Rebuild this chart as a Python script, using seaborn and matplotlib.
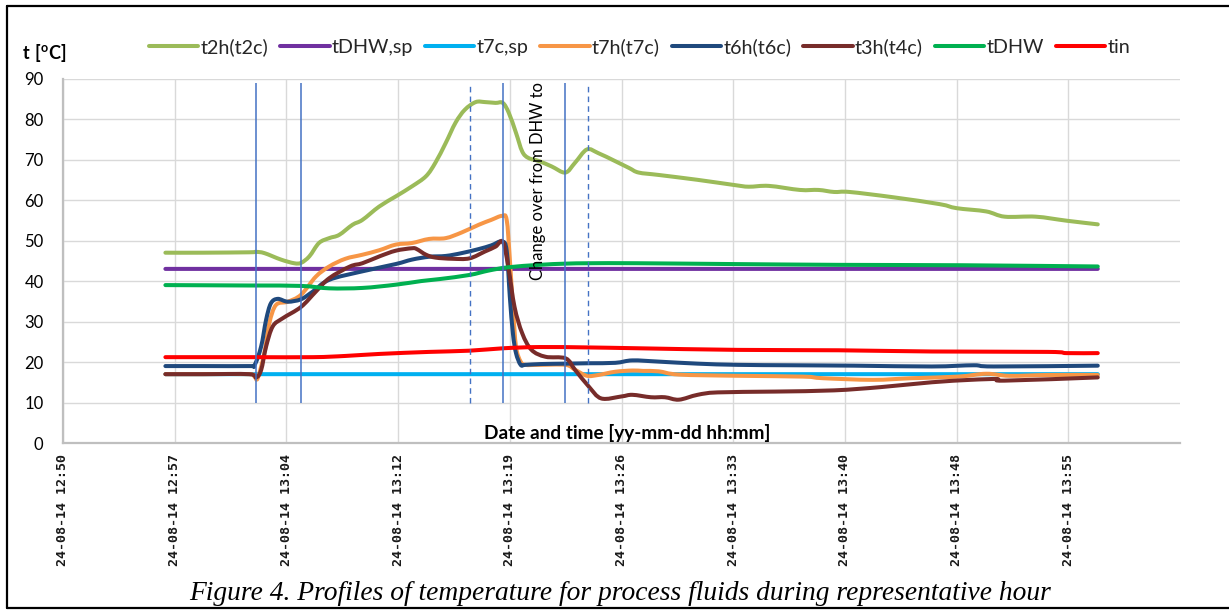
import matplotlib
matplotlib.use("Agg")
import matplotlib.pyplot as plt
from matplotlib.lines import Line2D
from matplotlib.path import Path
from matplotlib.patches import PathPatch
import numpy as np
import seaborn as sns
import pandas as pd

# Time axis: minutes after 24-08-14 12:50, major step of 0.005 day (7.2 min)
TICK_MIN = [0, 7.2, 14.4, 21.6, 28.8, 36.0, 43.2, 50.4, 57.6, 64.8]
TICK_LABELS = ["24-08-14 12:50", "24-08-14 12:57", "24-08-14 13:04", "24-08-14 13:12",
               "24-08-14 13:19", "24-08-14 13:26", "24-08-14 13:33", "24-08-14 13:40",
               "24-08-14 13:48", "24-08-14 13:55"]
X_MAX = 72.0

SERIES = ["t2h(t2c)", "tDHW,sp", "t7c,sp", "t7h(t7c)", "t6h(t6c)", "t3h(t4c)", "tDHW", "tin"]
COLORS = ["#9BBB59", "#7030A0", "#00B0F0", "#F79646", "#1F497D", "#772C2A", "#00B050", "#FF0000"]

T2H_MIN = [6.6, 9.0, 12.0, 12.45, 12.98, 14.05, 14.9, 15.35, 15.88, 16.5, 17.16, 17.8, 18.66, 19.3,
           20.38, 21.45, 22.5, 23.4, 24.0, 24.67, 25.3, 25.9, 26.6, 27.2, 27.88, 28.35, 28.74, 29.2,
           29.6, 30.0, 30.7, 31.5, 32.38, 33.0, 33.77, 34.5, 35.6, 36.5, 37.1, 38.4, 40.9, 43.3,
           44.2, 45.5, 47.5, 48.7, 49.7, 50.7, 53.5, 56.5, 57.6, 59.5, 60.7, 62.7, 64.7, 66.7]
T2H = [47.0, 47.0, 47.1, 47.2, 46.9, 45.3, 44.4, 44.5, 46.1, 49.4, 50.6, 51.4, 53.9, 55.1,
       58.4, 60.9, 63.4, 65.9, 69.2, 74.1, 79.1, 82.3, 84.2, 84.2, 84.0, 84.0, 81.5, 76.6,
       72.0, 70.4, 69.6, 68.3, 66.8, 69.2, 72.5, 71.6, 69.6, 67.9, 66.8, 66.2, 65.0, 63.7,
       63.3, 63.5, 62.5, 62.5, 62.0, 62.0, 60.7, 59.0, 58.0, 57.2, 55.9, 55.9, 54.9, 54.0]

TDHW_SP_MIN = [6.6, 66.7]
TDHW_SP = [43.0, 43.0]

T7C_SP_MIN = [6.6, 66.7]
T7C_SP = [17.0, 17.0]

T7H_MIN = [6.6, 9.0, 12.0, 12.34, 12.55, 12.98, 13.3, 13.73, 14.49, 15.34, 16.3, 17.16, 18.2, 19.3,
           20.38, 21.45, 22.5, 23.6, 24.67, 25.7, 26.8, 27.6, 28.3, 28.6, 28.8, 29.0, 29.2, 29.5,
           29.8, 30.7, 32.4, 33.0, 33.77, 34.5, 35.6, 36.7, 37.4, 38.4, 39.7, 43.5, 47.7, 49.0,
           52.2, 54.7, 57.7, 59.5, 61.0, 63.5, 66.7]
T7H = [17.0, 17.0, 17.0, 16.4, 16.0, 22.2, 29.6, 34.1, 34.9, 36.6, 41.1, 43.6, 45.5, 46.5,
       47.6, 49.0, 49.4, 50.4, 50.6, 52.0, 53.9, 55.1, 56.1, 55.1, 45.5, 33.7, 23.8, 20.1,
       19.3, 19.3, 19.3, 18.1, 16.6, 16.8, 17.6, 17.9, 17.8, 17.7, 16.9, 16.6, 16.4, 16.0,
       15.6, 16.0, 16.4, 17.1, 16.6, 16.8, 16.8]

T6H_MIN = [6.6, 9.0, 12.0, 12.34, 12.77, 13.09, 13.4, 13.84, 14.49, 15.34, 16.1, 17.16, 19.3, 21.45,
           22.5, 23.6, 24.67, 25.7, 26.8, 27.6, 28.3, 28.6, 28.8, 29.0, 29.2, 29.5, 29.8, 30.8,
           32.4, 33.9, 35.6, 36.7, 38.4, 40.9, 43.5, 47.0, 51.0, 56.0, 58.7, 60.0, 66.7]
T6H = [19.0, 19.0, 19.0, 19.2, 23.8, 30.4, 34.5, 35.6, 34.9, 35.5, 37.4, 40.3, 42.4, 44.2,
       45.3, 46.0, 46.2, 46.9, 47.9, 48.8, 49.8, 47.5, 36.2, 27.1, 22.2, 19.3, 19.3, 19.5,
       19.6, 19.7, 19.8, 20.4, 20.1, 19.6, 19.3, 19.2, 19.1, 18.9, 19.2, 18.9, 19.1]

T3H_MIN = [6.6, 9.0, 12.0, 12.45, 12.77, 13.09, 13.52, 14.16, 15.34, 16.3, 17.16, 18.5, 19.3, 20.4,
           21.45, 22.5, 22.8, 23.4, 24.0, 25.1, 26.2, 27.2, 27.88, 28.35, 28.7, 29.1, 29.6, 30.2,
           31.1, 32.4, 33.0, 33.9, 34.7, 36.0, 36.7, 37.9, 38.8, 39.7, 40.9, 42.2, 45.9, 49.7,
           52.7, 56.0, 58.5, 60.2, 60.7, 66.7]
T3H = [17.0, 17.0, 17.0, 16.2, 18.0, 23.8, 28.8, 30.8, 33.6, 37.4, 40.7, 43.6, 44.4, 46.1,
       47.5, 48.1, 47.9, 46.5, 45.8, 45.5, 45.6, 47.3, 48.5, 49.7, 43.6, 33.7, 27.1, 23.0,
       21.3, 20.9, 18.1, 13.9, 11.0, 11.5, 11.9, 11.3, 11.3, 10.7, 11.9, 12.5, 12.7, 13.0,
       13.8, 15.0, 15.6, 15.8, 15.4, 16.2]

TDHW_MIN = [6.6, 12.0, 15.34, 17.16, 19.3, 21.45, 23.1, 24.3, 26.2, 27.45, 28.7, 30.7, 32.4, 34.0,
            37.0, 43.0, 50.0, 58.0, 66.7]
TDHW = [39.0, 38.9, 38.8, 38.2, 38.3, 39.1, 40.0, 40.5, 41.5, 42.6, 43.4, 44.0, 44.3, 44.4,
        44.4, 44.2, 44.0, 43.9, 43.6]

TIN_MIN = [6.6, 12.0, 16.1, 18.2, 20.4, 23.6, 26.2, 28.4, 30.7, 33.9, 37.0, 43.5, 50.0, 56.0,
           63.5, 64.7, 66.7]
TIN = [21.2, 21.2, 21.2, 21.5, 22.0, 22.5, 22.8, 23.4, 23.7, 23.6, 23.4, 23.0, 22.9, 22.6,
       22.5, 22.2, 22.2]

# Operating-mode markers (minutes after 12:50)
VLINE_SOLID = [12.45, 15.35, 28.35, 32.38]
VLINE_DASHED = [26.21, 33.83]
VLINE_SPAN = (9.8, 89.0)

CAPTION = "Figure 4. Profiles of temperature for process fluids during representative hour"

series_data = [(T2H_MIN, T2H), (TDHW_SP_MIN, TDHW_SP), (T7C_SP_MIN, T7C_SP), (T7H_MIN, T7H),
               (T6H_MIN, T6H), (T3H_MIN, T3H), (TDHW_MIN, TDHW), (TIN_MIN, TIN)]
frames = []
for name, (tm, val) in zip(SERIES, series_data):
    frames.append(pd.DataFrame({"minute": tm, "temp": val, "series": name}))
df = pd.concat(frames, ignore_index=True)


def smoothed_path(x, y):
    """Cubic Bezier path through the points (spreadsheet-style smoothed line)."""
    pts = np.column_stack([x, y]).astype(float)
    n = len(pts)
    verts, codes = [pts[0]], [Path.MOVETO]
    for i in range(n - 1):
        p0 = pts[i - 1] if i > 0 else pts[i]
        p1, p2 = pts[i], pts[i + 1]
        p3 = pts[i + 2] if i + 2 < n else pts[i + 1]
        verts += [p1 + (p2 - p0) / 6.0, p2 - (p3 - p1) / 6.0, p2]
        codes += [Path.CURVE4] * 3
    return Path(verts, codes)


sns.set_theme(style="whitegrid")
plt.rcParams["font.family"] = ["Lato", "DejaVu Sans"]
plt.rcParams["mathtext.fontset"] = "custom"
plt.rcParams["mathtext.rm"] = "Lato"
plt.rcParams["mathtext.bf"] = "Lato:bold"

W, H = 1229, 610
fig = plt.figure(figsize=(W / 100, H / 100), dpi=100)
fig.patch.set_facecolor("white")
L, R, T, B = 63, 1180, 78.6, 443
ax = fig.add_axes([L / W, 1 - B / H, (R - L) / W, (B - T) / H])
ax.set_facecolor("white")

sns.lineplot(data=df, x="minute", y="temp", hue="series", hue_order=SERIES,
             palette=dict(zip(SERIES, COLORS)), estimator=None, linewidth=2.9,
             legend=True, ax=ax)

# Render each series line as a smoothed curve through its points
for line in list(ax.get_lines()):
    xd, yd = np.asarray(line.get_xdata(), float), np.asarray(line.get_ydata(), float)
    if len(xd) < 2:
        continue
    patch = PathPatch(smoothed_path(xd, yd), fill=False, edgecolor=line.get_color(),
                      linewidth=line.get_linewidth(), capstyle="round", joinstyle="round",
                      zorder=line.get_zorder())
    ax.add_patch(patch)
    line.set_visible(False)

ax.vlines(VLINE_SOLID, *VLINE_SPAN, colors="#4472C4", linewidth=1.1, zorder=5)
ax.vlines(VLINE_DASHED, *VLINE_SPAN, colors="#4472C4", linewidth=1.0,
          linestyles=(0, (4, 3)), zorder=5)

ax.set_xlim(0, X_MAX)
ax.set_ylim(0, 90)
ax.set_xticks(TICK_MIN)
ax.set_xticklabels(TICK_LABELS, rotation=90, family="DejaVu Sans Mono", fontsize=9.6,
                   fontweight="bold", color="#1a1a1a")
ax.set_yticks(range(0, 91, 10))
ax.tick_params(axis="y", labelsize=12, pad=14, length=0, colors="#000000")
ax.tick_params(axis="x", pad=8, length=0)
ax.grid(True, color="#D9D9D9", linewidth=1.0)
for side in ["top", "right"]:
    ax.spines[side].set_visible(False)
for side in ["left", "bottom"]:
    ax.spines[side].set_color("#BFBFBF")
    ax.spines[side].set_linewidth(1.6)
ax.set_xlabel("")
ax.set_ylabel("")

ax.text(0.505, 0.027, "Date and time [yy-mm-dd hh:mm]", transform=ax.transAxes,
        ha="center", va="center", fontsize=13.7, fontweight="bold", color="#000000")
ax.text(30.6, 64.7, "Change over from DHW to", rotation=90, ha="center", va="center",
        fontsize=12, color="#000000", zorder=6)

handles, labels = ax.get_legend_handles_labels()
ax.get_legend().remove()
for h in handles:
    h.set_linewidth(2.9)
    h.set_visible(True)

# Legend laid out between x = 149 px (first key) and x = 1130 px (end of last label)
LEG_FS = 14.2
fs_px = LEG_FS * 100 / 72
leg_left, leg_right, leg_y = 149, 1130, 47
colsp = 0.72
x_anchor = leg_left
renderer = fig.canvas.get_renderer()
for _ in range(3):
    leg = fig.legend(handles, labels, loc="center left",
                     bbox_to_anchor=(x_anchor / W, 1 - leg_y / H), ncol=8, frameon=False,
                     fontsize=LEG_FS, handlelength=2.5, handletextpad=0.1,
                     columnspacing=colsp, borderpad=0, borderaxespad=0)
    fig.canvas.draw()
    x0 = leg.legend_handles[0].get_window_extent(renderer).x0
    x1 = leg.get_texts()[-1].get_window_extent(renderer).x1
    extra = ((leg_right - leg_left) - (x1 - x0)) / 7
    colsp = max(0.2, colsp + extra / fs_px)
    x_anchor += leg_left - x0
    leg.remove()
fig.legend(handles, labels, loc="center left",
           bbox_to_anchor=(x_anchor / W, 1 - leg_y / H), ncol=8, frameon=False,
           fontsize=LEG_FS, handlelength=2.5, handletextpad=0.1,
           columnspacing=colsp, borderpad=0, borderaxespad=0)

fig.text(22 / W, 1 - 53 / H, r"$\mathbf{t\ [{}^{o}C]}$", ha="left", va="center",
         fontsize=13, color="#000000")

# Caption sized to span x = 188 .. 1052 px
cap = fig.text(620 / W, 1 - 593 / H, CAPTION, ha="center", va="center", fontsize=18,
               style="italic", family="Liberation Serif", color="#000000")
fig.canvas.draw()
cw = cap.get_window_extent(renderer).width
cap.set_fontsize(18 * 864 / cw)

# Frame around the figure block
for xs, ys in [((7, W + 5), (6, 6)), ((7, 7), (6, 608)), ((7, W + 5), (608, 608))]:
    fig.add_artist(Line2D([x / W for x in xs], [1 - y / H for y in ys], color="black",
                          linewidth=1.6, transform=fig.transFigure))

fig.savefig("out.png", dpi=100, facecolor="white")
